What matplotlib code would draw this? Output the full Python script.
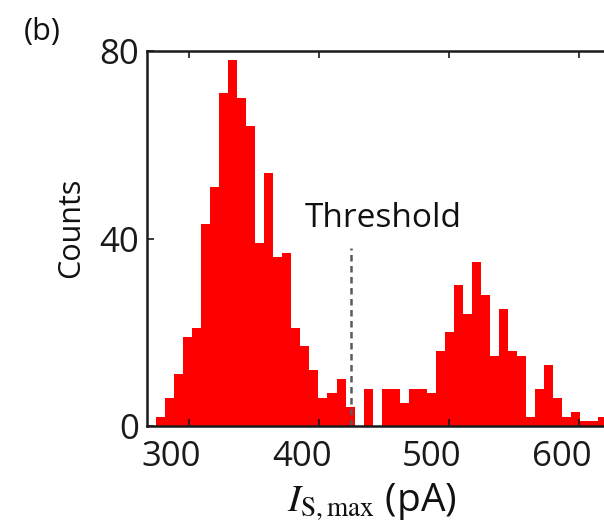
import numpy as np
import matplotlib
matplotlib.use("Agg")
import matplotlib.pyplot as plt
import matplotlib.transforms as mtransforms

plt.rcParams['font.family'] = ['Open Sans', 'DejaVu Sans']
plt.rcParams['mathtext.fontset'] = 'stix'

# histogram data
bin_start = 274.8
bin_width = 6.95
counts = [2, 6, 11, 19, 21, 43, 51, 71, 78, 70,
          64, 39, 54, 36, 37, 21, 17, 12, 6, 7,
          10, 4, 0, 8, 0, 8, 8, 5, 8, 8,
          7, 16, 20, 30, 24, 35, 28, 15, 25, 16,
          15, 2, 8, 13, 6, 2, 3, 1, 1, 2]
threshold = 425
threshold_top = 38
xticks = [300, 400, 500, 600]
yticks = [0, 40, 80]

edges = bin_start + bin_width * np.arange(len(counts) + 1)

fig = plt.figure(figsize=(6.04, 5.22), dpi=100)
# axes runs past the right edge, as in the cropped original
ax = fig.add_axes([147 / 604, 96 / 522, (643.5 - 147) / 604, 375 / 522])

ax.bar(edges[:-1], counts, width=bin_width, align='edge', color='#ff0000', linewidth=0)
ax.plot([threshold, threshold], [0, threshold_top], color='#5a5a5a', lw=1.8,
        ls=(0, (2.6, 1.8)))
ax.text(389.6, 42.4, 'Threshold', fontsize=24, ha='left', va='baseline', color='#111111')

ax.set_xlim(268, 650)
ax.set_ylim(0, 80)
ax.set_xticks(xticks)
ax.set_yticks(yticks)
ax.tick_params(direction='in', top=True, length=5, width=1.2, labelsize=25, colors='#1a1a1a')
ax.tick_params(axis='x', pad=10)
ax.tick_params(axis='y', pad=6)
for s in ax.spines.values():
    s.set_linewidth(1.8)
    s.set_color('#1a1a1a')

# labels in the original sit a bit left of their ticks
shift = mtransforms.ScaledTranslation(-17 / 100, 0, fig.dpi_scale_trans)
for lab in ax.get_xticklabels():
    lab.set_transform(lab.get_transform() + shift)

fig.text(71 / 604, 1 - 228 / 522, 'Counts', rotation=90, fontsize=22,
         ha='center', va='center', color='#111111')
fig.text(42 / 604, 1 - 32 / 522, '(b)', fontsize=22, ha='center', va='center', color='#111111')
fig.text(371.5 / 604, 1 - 511 / 522, r'$I_{\mathrm{S,max}}$ (pA)', fontsize=28,
         ha='center', va='baseline', color='#111111')

fig.savefig('out.png', dpi=100)
